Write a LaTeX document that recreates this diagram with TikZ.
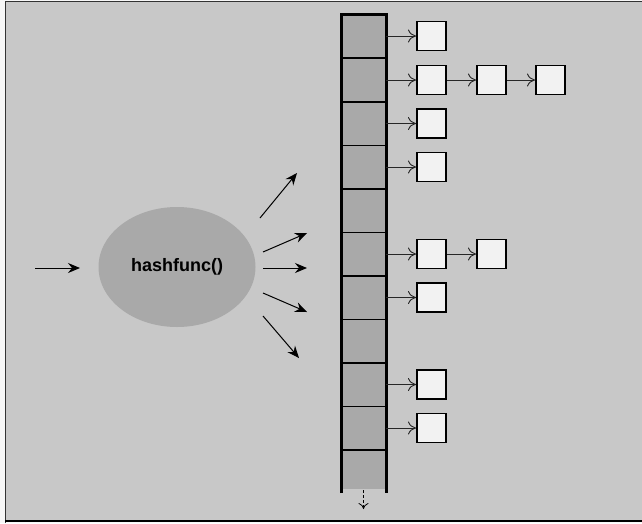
\documentclass[tikz,border=0pt]{standalone}
\usepackage{fontspec}
\setmainfont{Liberation Sans}
\usetikzlibrary{arrows.meta,shapes.geometric}
\definecolor{bg}{HTML}{C8C8C8}
\definecolor{cellfill}{HTML}{A9A9A9}
\definecolor{boxfill}{HTML}{F2F2F2}
\begin{document}
\begin{tikzpicture}[x=1pt,y=-1pt,
  item/.style={draw=black,line width=1.8pt,fill=boxfill,minimum width=29pt,minimum height=29pt,inner sep=0pt,anchor=west},
  link/.style={draw=black!85,line width=0.9pt,-{To[length=8pt,width=13pt,line width=0.9pt]}},
  hasharrow/.style={draw=black,line width=1pt,-{Stealth[length=12pt,width=10pt,inset=4pt]}},
  cellslot/.style={minimum width=45pt,minimum height=43.5pt,inner sep=0pt}]
\useasboundingbox (0,0) rectangle (642,523);
\fill[white!85!bg] (0,0) rectangle (642,523);
\fill[bg] (5,2) rectangle (642,521);
\draw[black!80,line width=1pt] (5,523) -- (5,1.5) -- (642,1.5);
\draw[black,line width=2.5pt] (5,521) -- (642,521);
% table column
\fill[cellfill] (341,14) rectangle (386,489);
\foreach \y in {58,102,145.5,189,232.5,276,319.5,363,406.5,450}
  \draw[black,line width=1.3pt] (341,\y) -- (386,\y);
\draw[black,line width=3pt] (341,493) -- (341,14) -- (386,14) -- (386,493);
% named cell slots (invisible)
\foreach \i/\yc in {0/36,1/80,2/123.5,3/167,4/210.5,5/254,6/297.5,7/341,8/384.5,9/428,10/470}
  \node[cellslot] (c\i) at (363.5,\yc) {};
\coordinate (bstart) at (363.5,490);
\coordinate (bend) at (363.5,509);
\draw[black,line width=0.8pt,dashed,dash pattern=on 3pt off 2pt,-{To[length=6pt,width=10pt]}] (bstart) -- (bend);
% chained boxes
\node[item] (b0a) at (416,36) {};
\node[item] (b1a) at (416,80) {};
\node[item] (b1b) at (476,80) {};
\node[item] (b1c) at (535,80) {};
\node[item] (b2a) at (416,123.5) {};
\node[item] (b3a) at (416,167) {};
\node[item] (b5a) at (416,254) {};
\node[item] (b5b) at (476,254) {};
\node[item] (b6a) at (416,297.5) {};
\node[item] (b8a) at (416,384.5) {};
\node[item] (b9a) at (416,428) {};
\foreach \c/\b in {c0/b0a,c1/b1a,c2/b2a,c3/b3a,c5/b5a,c6/b6a,c8/b8a,c9/b9a}
  \draw[link] (\c.east) -- (\b.west);
\draw[link] (b1a.east) -- (b1b.west);
\draw[link] (b1b.east) -- (b1c.west);
\draw[link] (b5a.east) -- (b5b.west);
% hash function
\node[ellipse,fill=cellfill,minimum width=157pt,minimum height=120pt,inner sep=0pt] (hf) at (177,267) {\fontsize{18pt}{21pt}\selectfont\bfseries hashfunc()};
\coordinate (in0) at (35,268);
\coordinate (in1) at (80,268);
\draw[hasharrow] (in0) -- (in1);
\coordinate (o1s) at (260,218); \coordinate (o1e) at (297,173);
\coordinate (o2s) at (263,252); \coordinate (o2e) at (307,233);
\coordinate (o3s) at (263,268); \coordinate (o3e) at (307,268);
\coordinate (o4s) at (263,293); \coordinate (o4e) at (307,312);
\coordinate (o5s) at (263,316); \coordinate (o5e) at (299,358);
\foreach \k in {1,...,5}
  \draw[hasharrow] (o\k s) -- (o\k e);
\end{tikzpicture}
\end{document}
